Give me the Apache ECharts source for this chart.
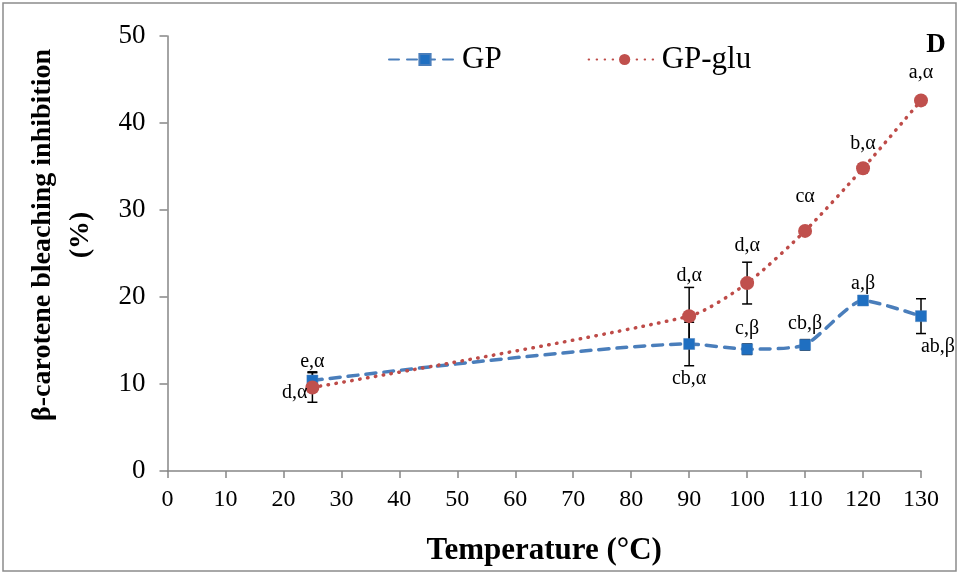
<!DOCTYPE html>
<html>
<head>
<meta charset="utf-8">
<script src="https://cdn.jsdelivr.net/npm/echarts@6/dist/echarts.min.js"></script>
<style>html,body{margin:0;padding:0;background:#fff}#c{width:960px;height:575px}</style>
</head>
<body>
<div id="c"></div>
<script>
var temps = [25, 90, 100, 110, 120, 130];
var gpValues = [10.4, 14.6, 14.0, 14.5, 19.6, 17.8];
var gpErr = [1.0, 2.5, 0.6, 0.6, 0.3, 2.0];
var gpLabels = ['e,α', 'cb,α', 'c,β', 'cb,β', 'a,β', 'ab,β'];
var gluValues = [9.6, 17.8, 21.6, 27.6, 34.8, 42.6];
var gluErr = [1.7, 3.3, 2.4, 0.3, 0.5, 0.3];
var gluLabels = ['d,α', 'd,α', 'd,α', 'cα', 'b,α', 'a,α'];
var xTicks = {min: 0, max: 130, interval: 10};
var yTicks = {min: 0, max: 50, interval: 10};

var FONT = '"Liberation Serif", "Times New Roman", serif';
var BLUE_LINE = '#4A7EBB', BLUE_MARK = '#1F6FC1';
var RED_LINE = '#BE4B48', RED_MARK = '#C0504D';

// label placement (styling, not data)
var gpLabelPos = [
  {position: 'top', distance: 3.5},
  {position: 'bottom', distance: 19.5},
  {position: 'top', distance: 4.5},
  {position: 'top', distance: 5.5},
  {position: 'top', distance: 0.5},
  {position: 'bottom', distance: 14.5, offset: [17, 0]}
];
var gluLabelPos = [
  {position: 'left', distance: -2, offset: [0, 5]},
  {position: 'top', distance: 23.5},
  {position: 'top', distance: 20.5},
  {position: 'top', distance: 17.5},
  {position: 'top', distance: 7.5},
  {position: 'top', distance: 10.5}
];

function buildSeriesData(vals, labels, pos) {
  return temps.map(function (t, i) {
    return {
      value: [t, vals[i]],
      label: Object.assign({show: true, formatter: labels[i]}, pos[i])
    };
  });
}
function buildErrData(vals, errs) {
  return temps.map(function (t, i) { return [t, vals[i] - errs[i], vals[i] + errs[i]]; });
}
function errRender(params, api) {
  var x = api.value(0);
  var lo = api.coord([x, api.value(1)]);
  var hi = api.coord([x, api.value(2)]);
  var w = 5;
  var st = {stroke: '#000', lineWidth: 1.5};
  return {
    type: 'group',
    children: [
      {type: 'line', shape: {x1: lo[0], y1: lo[1], x2: hi[0], y2: hi[1]}, style: st},
      {type: 'line', shape: {x1: lo[0] - w, y1: lo[1], x2: lo[0] + w, y2: lo[1]}, style: st},
      {type: 'line', shape: {x1: hi[0] - w, y1: hi[1], x2: hi[0] + w, y2: hi[1]}, style: st}
    ]
  };
}

var chart = echarts.init(document.getElementById('c'), null, {renderer: 'canvas'});
var labelStyle = {color: '#000', fontFamily: FONT, fontSize: 20};
chart.setOption({
  animation: false,
  backgroundColor: '#fff',
  textStyle: {fontFamily: FONT},
  grid: {left: 167.5, right: 39, top: 36, bottom: 104, containLabel: false},
  legend: {
    top: 39, left: 383,
    itemWidth: 72, itemHeight: 14, itemGap: 86,
    textStyle: {fontFamily: FONT, fontSize: 31, color: '#000', padding: [0, 0, 0, -4]},
    data: ['GP', 'GP-glu']
  },
  xAxis: {
    type: 'value', min: xTicks.min, max: xTicks.max, interval: xTicks.interval,
    name: 'Temperature (°C)', nameLocation: 'middle', nameGap: 64,
    nameTextStyle: {fontFamily: FONT, fontSize: 31, fontWeight: 'bold', color: '#000'},
    axisLine: {lineStyle: {color: '#868686', width: 1.5}},
    axisTick: {show: true, length: 7, lineStyle: {color: '#868686', width: 1.5}},
    axisLabel: {fontFamily: FONT, fontSize: 24, color: '#000', margin: 17},
    splitLine: {show: false}
  },
  yAxis: {
    type: 'value', min: yTicks.min, max: yTicks.max, interval: yTicks.interval,
    axisLine: {show: true, lineStyle: {color: '#868686', width: 1.5}},
    axisTick: {show: true, length: 8, lineStyle: {color: '#868686', width: 1.5}},
    axisLabel: {fontFamily: FONT, fontSize: 27, color: '#000', margin: 22},
    splitLine: {show: false}
  },
  graphic: [
    {type: 'rect', shape: {x: 3, y: 3, width: 953, height: 568}, style: {fill: 'none', stroke: '#8c8c8c', lineWidth: 1.5}, z: 0},
    {type: 'text', x: 62, y: 235, rotation: Math.PI / 2, style: {
      text: 'β-carotene bleaching inhibition\n(%)', font: 'bold 28px ' + FONT,
      fill: '#000', align: 'center', verticalAlign: 'middle', lineHeight: 38
    }},
    {type: 'text', x: 936, y: 45, style: {text: 'D', font: 'bold 27px ' + FONT, fill: '#000', align: 'center', verticalAlign: 'middle'}}
  ],
  series: [
    {
      name: 'GP-err', type: 'custom', renderItem: errRender, z: 1,
      data: buildErrData(gpValues, gpErr), encode: {x: 0, y: [1, 2]}, silent: true
    },
    {
      name: 'GP-glu-err', type: 'custom', renderItem: errRender, z: 1,
      data: buildErrData(gluValues, gluErr), encode: {x: 0, y: [1, 2]}, silent: true
    },
    {
      name: 'GP', type: 'line', smooth: 0.2, z: 3,
      symbol: 'rect', symbolSize: 11,
      lineStyle: {color: BLUE_LINE, width: 3.5, type: [10, 8], cap: 'round'},
      itemStyle: {color: BLUE_MARK, borderColor: BLUE_LINE, borderWidth: 0.5},
      label: labelStyle,
      data: buildSeriesData(gpValues, gpLabels, gpLabelPos)
    },
    {
      name: 'GP-glu', type: 'line', smooth: 0.25, z: 4,
      symbol: 'circle', symbolSize: 14,
      lineStyle: {color: RED_LINE, width: 3.5, type: [0.5, 7.5], cap: 'round'},
      itemStyle: {color: RED_MARK, borderWidth: 0},
      label: labelStyle,
      data: buildSeriesData(gluValues, gluLabels, gluLabelPos)
    }
  ]
});
</script>
</body>
</html>
